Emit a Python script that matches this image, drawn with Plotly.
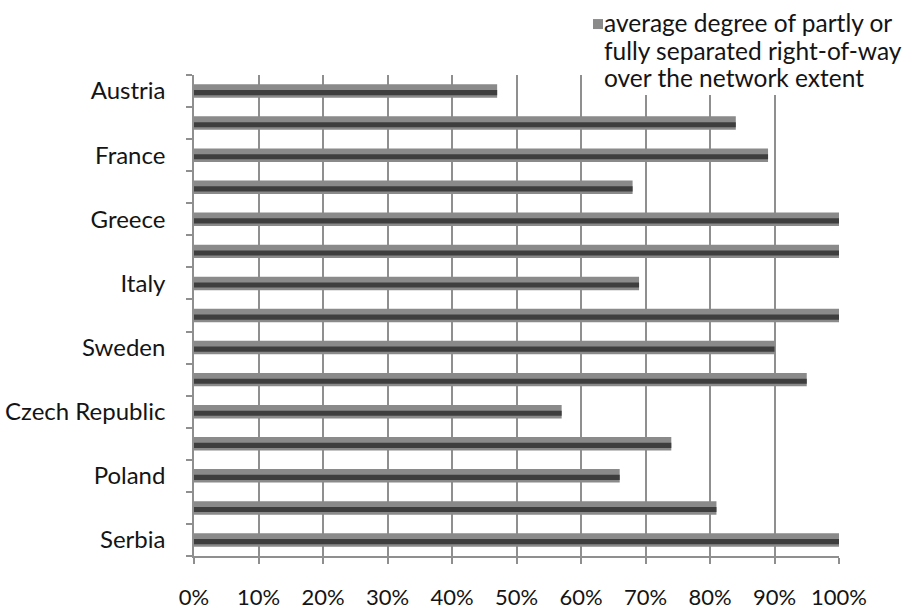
import plotly.graph_objects as go

# Rows from top to bottom; only every other row carries a label on the axis
row_labels = ["Austria", "", "France", "", "Greece", "", "Italy", "",
              "Sweden", "", "Czech Republic", "", "Poland", "", "Serbia"]
separation_pct = [47, 84, 89, 68, 100, 100, 69, 100, 90, 95, 57, 74, 66, 81, 100]
x_ticks = list(range(0, 101, 10))
series_lines = ["average degree of partly or",
                "fully separated right-of-way",
                "over the network extent"]

positions = list(range(len(row_labels)))
FONT = "Lato, 'Noto Sans', sans-serif"
GRID = "#8f8f8f"
TEXT = "#141414"
BAR_BODY = "#8a8a8a"
BAR_CORE = "#3e3e3e"

# plot-area placement in pixels
W, H = 904, 612
L, R, T, B = 193.5, 64.7, 75.0, 55.5
plot_h = H - T - B


def paper_y(py):
    return (H - B - py) / plot_h


def paper_x(px):
    return (px - L) / (W - L - R)


fig = go.Figure()
# outer body of each bar
fig.add_trace(go.Bar(
    y=positions, x=separation_pct, orientation="h",
    width=0.42, offset=-0.21,
    marker=dict(color=BAR_BODY, line=dict(width=0)),
    name=" ".join(series_lines), showlegend=False,
))
# darker core band that gives the bars their shaded look
fig.add_trace(go.Bar(
    y=positions, x=separation_pct, orientation="h",
    width=0.16, offset=-0.03,
    marker=dict(color=BAR_CORE, line=dict(width=0)),
    showlegend=False, hoverinfo="skip",
))

fig.update_layout(
    width=W, height=H,
    margin=dict(l=L, r=R, t=T, b=B, autoexpand=False),
    paper_bgcolor="white", plot_bgcolor="white",
    barmode="overlay",
    font=dict(family=FONT, size=22, color=TEXT),
    showlegend=False,
)

fig.update_xaxes(
    range=[0, 100], tickvals=x_ticks, ticktext=[f"{v}%" for v in x_ticks],
    showgrid=True, gridcolor=GRID, gridwidth=1.5,
    showline=True, linecolor=GRID, linewidth=1.5,
    ticks="outside", ticklen=6, tickcolor=GRID, tickwidth=1.5,
    ticklabelstandoff=15, tickfont=dict(size=22, color=TEXT),
    zeroline=False, automargin=False,
)
fig.update_yaxes(
    range=[len(row_labels) - 0.5, -0.5],
    tickvals=positions, ticktext=row_labels, ticks="",
    minor=dict(tickvals=[p - 0.5 for p in positions] + [len(row_labels) - 0.5],
               ticks="outside", ticklen=6, tickcolor=GRID, tickwidth=1.5),
    showgrid=False, showline=True, linecolor=GRID, linewidth=1.5,
    ticklabelstandoff=22, tickfont=dict(size=24, color=TEXT),
    zeroline=False, automargin=False,
)

# series key: white backing, swatch, and a three-line caption in the upper right
fig.add_shape(type="rect", xref="paper", yref="paper",
              x0=paper_x(588), x1=paper_x(W), y0=paper_y(95), y1=paper_y(0),
              fillcolor="white", line=dict(width=0), layer="above")
fig.add_shape(type="rect", xref="paper", yref="paper",
              x0=paper_x(593), x1=paper_x(603), y0=paper_y(29), y1=paper_y(19),
              fillcolor=BAR_BODY, line=dict(width=0), layer="above")
for i, line in enumerate(series_lines):
    fig.add_annotation(
        text=line, xref="paper", yref="paper",
        x=paper_x(602), y=paper_y(22 + 28 * i), xanchor="left", yanchor="middle",
        align="left", showarrow=False,
        font=dict(size=24.5, color=TEXT, family=FONT),
    )

fig.write_html("out.html")
